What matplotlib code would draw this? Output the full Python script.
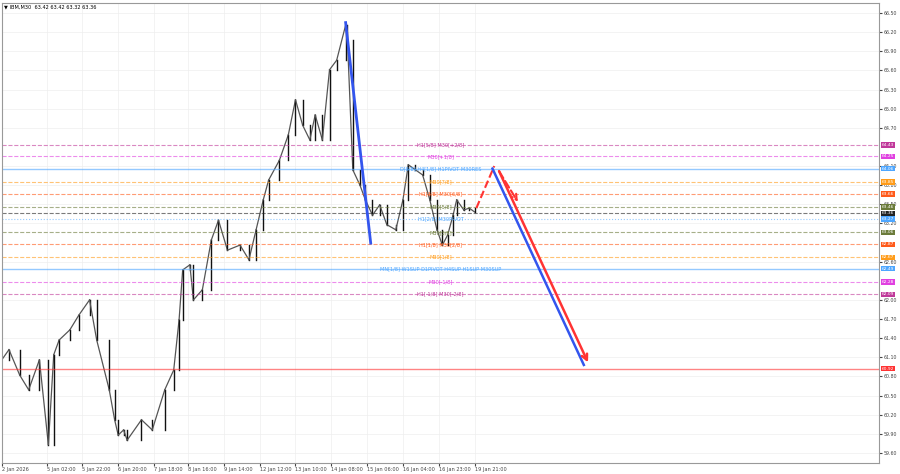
import matplotlib
matplotlib.use("Agg")
import matplotlib.pyplot as plt

bars = [0,4,10,15,21,26,29,32,38,43,49,53,60,63,65,68,70,78,84,91,96,99,101,105,107,112,117,121,126,133,138,142,146,149,155,160,164,168,172,175,179,183,187,192,193,196,200,203,207,211,215,220,224,227,231,235,239,243,246,249,252,254,258,261,264]
closes = [61.06,61.22,60.82,60.59,61.06,59.73,61.14,61.37,61.53,61.76,62.0,61.37,60.59,60.12,59.88,59.96,59.80,60.12,59.96,60.59,60.90,61.69,62.47,62.55,62.0,62.16,62.94,63.25,62.78,62.86,62.63,63.10,63.57,63.88,64.19,64.59,65.14,64.74,64.51,64.90,64.51,65.61,65.76,66.31,66.08,64.04,63.80,63.57,63.33,63.49,63.18,63.10,63.57,64.12,64.04,63.96,63.57,63.10,62.86,63.02,63.33,63.57,63.41,63.44,63.38]

levels = [64.43,64.25,64.06,63.85,63.66,63.46,63.36,63.27,63.06,62.87,62.67,62.49,62.28,62.09,60.92]
level_colors = ['#c0399a','#e040e0','#4da6ff','#ff9c1a','#ff5a1a','#6b7b3a','#222222','#4da6ff','#6b7b3a','#ff5a1a','#ff9c1a','#4da6ff','#e040e0','#c0399a','#ff3333']
level_styles = ['--','--','-','--','--','--','--',':','--','--','--','-','--','--','-']
level_texts = ['H1[5/8] M30[+2/8]','M30[+1/8]','D[8/8] H4[1/8] H1PIVOT M30RES','M30[7/8]','H1[3/8] M30[6/8]','M30[5/8]','','H1[2/8] M30PIVOT','M30[3/8]','H1[1/8] M30[2/8]','M30[1/8]','MN[1/8] W1SUP D1PIVOT H4SUP H1SUP M30SUP','M30[-1/8]','H1[-1/8] M30[-2/8]','']

tick_pos = [0,25,45,65,85,104,124,144,164,184,204,224,244,264]
tick_labels = ['2 Jan 2026','5 Jan 02:00','5 Jan 22:00','6 Jan 20:00','7 Jan 18:00','8 Jan 16:00','9 Jan 14:00','12 Jan 12:00','13 Jan 10:00','14 Jan 08:00','15 Jan 06:00','16 Jan 04:00','16 Jan 23:00','19 Jan 21:00']
yticks = [66.5,66.2,65.9,65.6,65.3,65.0,64.7,64.1,63.8,63.5,63.2,62.6,62.0,61.7,61.4,61.1,60.8,60.5,60.2,59.9,59.6]

fig = plt.figure(figsize=(9,4.74), dpi=100)
ax = fig.add_axes([0.002,0.023,0.975,0.971])
ax.set_xlim(0,490); ax.set_ylim(59.44,66.66)
ax.set_xticks(tick_pos); ax.set_xticklabels(tick_labels, fontsize=3.6, ha='left')
ax.yaxis.tick_right(); ax.set_yticks(yticks)
ax.set_yticklabels([f"{v:.2f}" for v in yticks], fontsize=3.4)
ax.tick_params(length=2, pad=1, colors='#444444')
ax.grid(color='#eeeeee', lw=0.5)
for s in ax.spines.values(): s.set_color('#999999')

for i in range(1,len(bars)):
    x0,x1 = bars[i-1],bars[i]
    ax.plot([x0,x1],[closes[i-1],closes[i]], color='#555555', lw=0.9)
    ax.plot([x1,x1],[closes[i-1],closes[i]], color='#111111', lw=1.0)

for v,c,ls,t in zip(levels,level_colors,level_styles,level_texts):
    ax.axhline(v, color=c, ls=ls, lw=0.8 if ls!='-' else 1.0, alpha=0.6)
    if t:
        ax.text(245, v, t, color=c, fontsize=3.6, ha='center', va='center')
    ax.text(1.003, v, f"{v:.2f}", transform=ax.get_yaxis_transform(), fontsize=3.2, color='white',
            va='center', ha='left', bbox=dict(boxstyle='square,pad=0.15', fc=c, ec='none'), clip_on=False)

ax.plot([192,206],[66.35,62.89], color='#3355ee', lw=2)
ax.plot([265,275],[63.44,64.1], color='#ff3333', lw=1.5, ls='--')
ax.annotate('', xy=(289,63.5), xytext=(277,64.05), arrowprops=dict(arrowstyle='->', color='#ff3333', lw=1.5, ls='--'))
ax.annotate('', xy=(328,60.98), xytext=(277,64.06), arrowprops=dict(arrowstyle='->', color='#ff3333', lw=1.8))
ax.plot([274,325],[64.06,60.98], color='#3355ee', lw=1.8)

fig.text(0.004,0.99,'▼ IBM,M30  63.42 63.42 63.32 63.36', fontsize=3.6, va='top')
fig.savefig('out.png', dpi=100)
